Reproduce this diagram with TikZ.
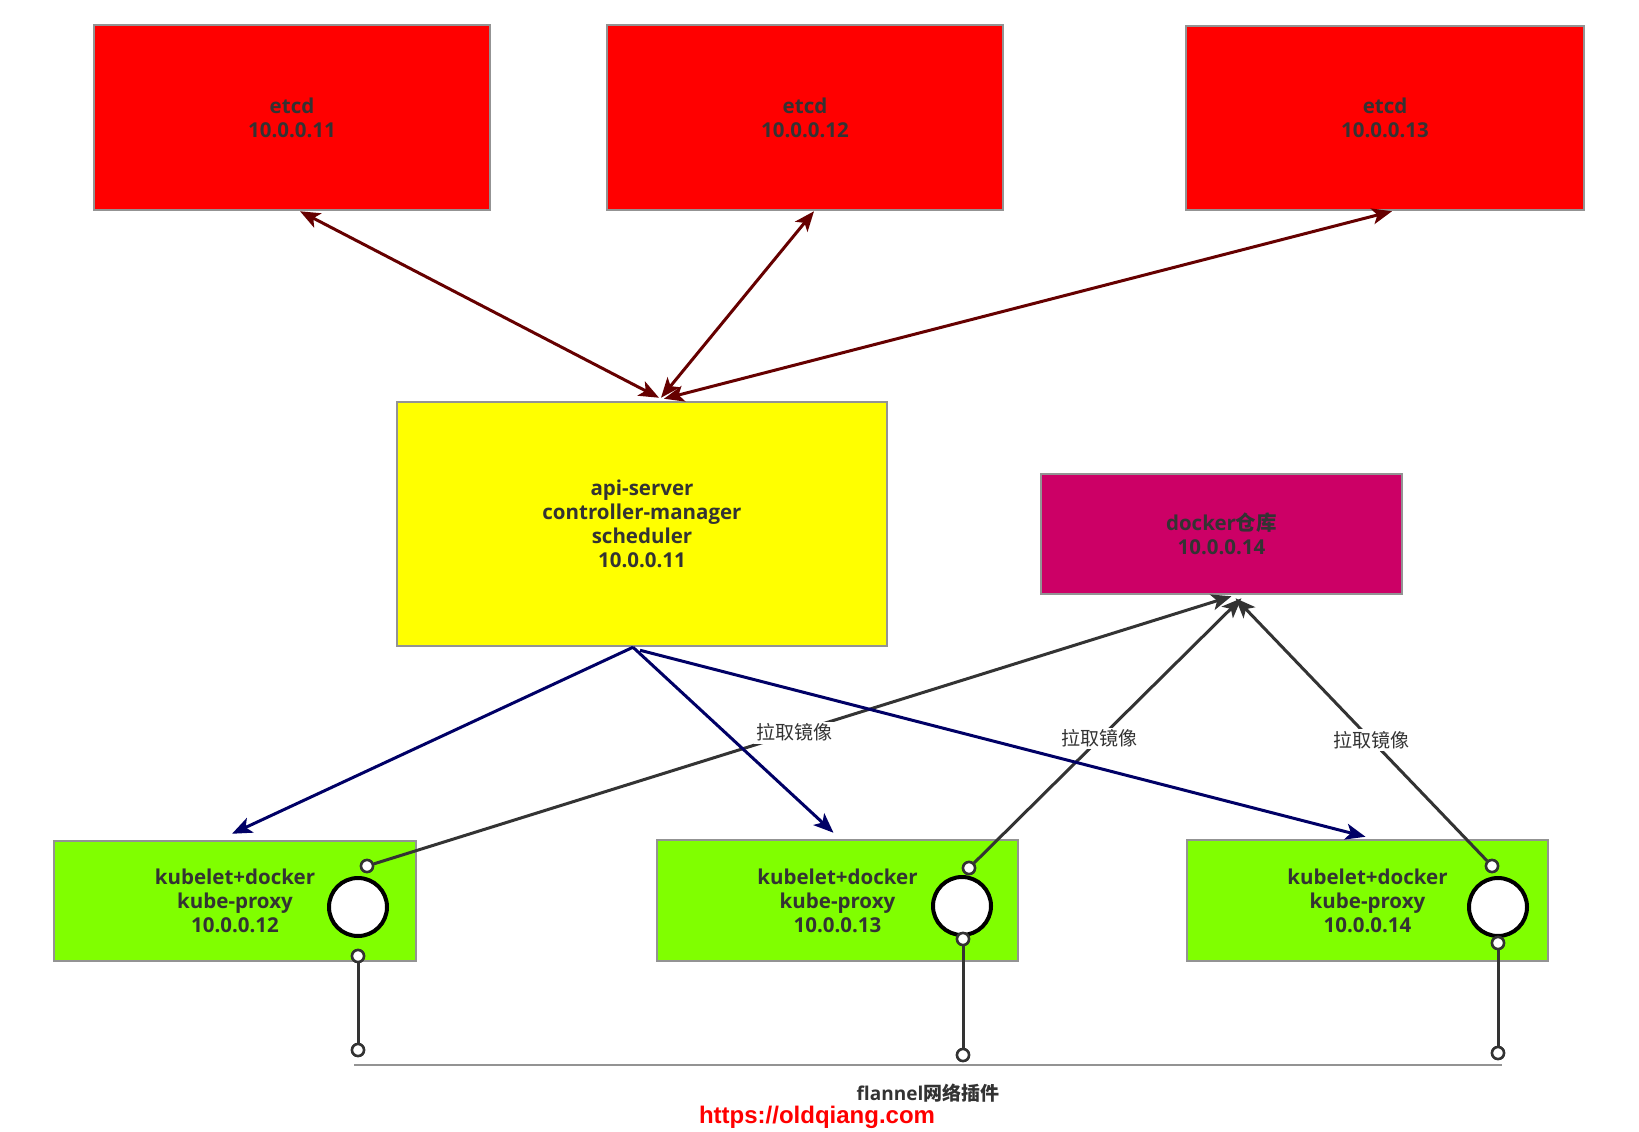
\documentclass[tikz,border=0pt]{standalone}
\usepackage{fontspec}
\setmainfont{Open Sans}
\newfontfamily\cjk{Noto Sans CJK SC}
\newfontfamily\urlfont{Liberation Sans}
\usetikzlibrary{arrows.meta,calc}
\definecolor{txt}{HTML}{333333}
\definecolor{boxgray}{HTML}{939393}
\definecolor{etcdred}{HTML}{FF0000}
\definecolor{apiyellow}{HTML}{FFFF00}
\definecolor{regmag}{HTML}{CC0066}
\definecolor{nodegreen}{HTML}{80FF00}
\definecolor{darkred}{HTML}{660000}
\definecolor{navy}{HTML}{000066}
\definecolor{pullgray}{HTML}{333333}
\tikzset{
  box/.style={draw=boxgray, line width=2.5pt, text=txt, align=center, inner sep=0pt,
    font=\bfseries\fontsize{20.5}{24}\selectfont},
  bigc/.style={circle, draw=black, line width=4pt, fill=white, minimum size=58pt, inner sep=0pt},
  smallc/.style={circle, draw=pullgray, line width=2.5pt, fill=white, minimum size=12pt, inner sep=0pt},
  tip/.tip={Stealth[length=20pt,width=16pt,inset=5pt]},
  etcdarrow/.style={draw=darkred, line width=3pt, tip-tip},
  schedarrow/.style={draw=navy, line width=3pt, -tip},
  pullarrow/.style={draw=pullgray, line width=3pt, -tip},
  pulllabel/.style={fill=white, text=txt, inner sep=2pt, font=\cjk\fontsize{19}{22}\selectfont},
  wire/.style={draw=pullgray, line width=3pt}
}
\begin{document}
\begin{tikzpicture}[x=1pt,y=-1pt]
\useasboundingbox (0,0) rectangle (1639,1132);
\fill[white] (0,0) rectangle (1639,1132);

% boxes
\node[box, fill=etcdred, minimum width=396pt, minimum height=185pt] (e1) at (292,117.5) {etcd\\10.0.0.11};
\node[box, fill=etcdred, minimum width=396pt, minimum height=185pt] (e2) at (805,117.5) {etcd\\10.0.0.12};
\node[box, fill=etcdred, minimum width=398pt, minimum height=184pt] (e3) at (1385,118) {etcd\\10.0.0.13};
\node[box, fill=apiyellow, minimum width=490pt, minimum height=244pt] (api) at (642,524) {api-server\\controller-manager\\scheduler\\10.0.0.11};
\node[box, fill=regmag, minimum width=361pt, minimum height=120pt] (dock) at (1221.5,534) {docker{\cjk 仓库}\\10.0.0.14};
\node[box, fill=nodegreen, minimum width=362pt, minimum height=120pt] (g1) at (235,901) {kubelet+docker\\kube-proxy\\10.0.0.12};
\node[box, fill=nodegreen, minimum width=361pt, minimum height=121pt] (g2) at (837.5,900.5) {kubelet+docker\\kube-proxy\\10.0.0.13};
\node[box, fill=nodegreen, minimum width=361pt, minimum height=121pt] (g3) at (1367.5,900.5) {kubelet+docker\\kube-proxy\\10.0.0.14};

% big circles
\node[bigc] (c1) at (358,907) {};
\node[bigc] (c2) at (962,906) {};
\node[bigc] (c3) at (1498,907) {};

% small circles
\node[smallc] (t1) at (367,866) {};
\node[smallc] (t2) at (969,868) {};
\node[smallc] (t3) at (1492,866) {};
\node[smallc] (b1) at (358,956) {};
\node[smallc] (b2) at (963,939) {};
\node[smallc] (b3) at (1498,943) {};
\node[smallc] (d1) at (358,1050) {};
\node[smallc] (d2) at (963,1055) {};
\node[smallc] (d3) at (1498,1053) {};

% flannel line
\coordinate (fl) at (354,1065);
\coordinate (fr) at (1502,1065);
\draw[draw=boxgray, line width=1.5pt] (fl) -- (fr);
\node[text=txt, font=\bfseries\fontsize{19}{22}\selectfont, inner sep=0pt] (flan) at (928,1093) {flannel{\cjk 网络插件}};
\node[text=red, font=\urlfont\bfseries\fontsize{24}{26}\selectfont, inner sep=0pt] (url) at (817,1117) {https://oldqiang.com};

% etcd arrows
\draw[etcdarrow] ([xshift=8pt]e1.south) -- ([xshift=17pt,yshift=3pt]api.north);
\draw[etcdarrow] ([xshift=9pt]e2.south) -- ([xshift=19pt,yshift=3pt]api.north);
\draw[etcdarrow] ([xshift=7pt]e3.south) -- ([xshift=22pt,yshift=2pt]api.north);

% pull arrows
\draw[pullarrow] (t1) -- node[pulllabel, pos=0.49] (l1) {拉取镜像} ([xshift=10pt,yshift=-1pt]dock.south);
\draw[pullarrow] (t2) -- node[pulllabel, pos=0.47] (l2) {拉取镜像} ([xshift=20pt,yshift=-3pt]dock.south);
\draw[pullarrow] (t3) -- node[pulllabel, pos=0.46] (l3) {拉取镜像} ([xshift=14pt,yshift=-3pt]dock.south);

% scheduler arrows
\draw[schedarrow] ([xshift=-9pt]api.south) -- ([xshift=-3pt,yshift=6pt]g1.north);
\draw[schedarrow] ([xshift=-9pt]api.south) -- ([xshift=-4pt,yshift=6pt]g2.north);
\draw[schedarrow] ([xshift=-2pt,yshift=-3pt]api.south) -- ([xshift=-2pt,yshift=2pt]g3.north);

% wires
\draw[wire] (b1) -- (d1);
\draw[wire] (b2) -- (d2);
\draw[wire] (b3) -- (d3);

% redraw small circles on top
\foreach \n in {t1,t2,t3,b1,b2,b3,d1,d2,d3} {
  \node[smallc] at (\n) {};
}
\end{tikzpicture}
\end{document}
